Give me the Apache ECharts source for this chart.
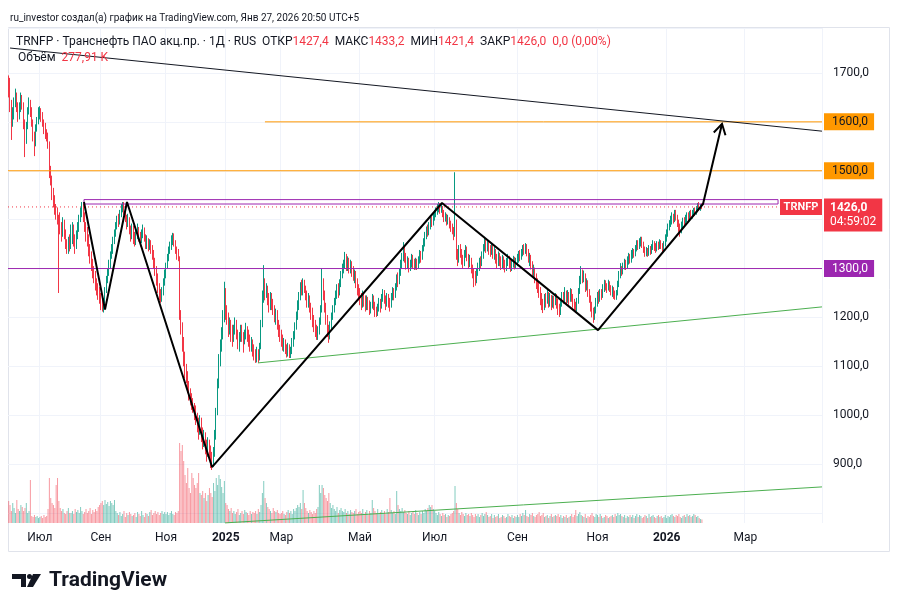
<!DOCTYPE html>
<html>
<head>
<meta charset="utf-8">
<script src="https://cdn.jsdelivr.net/npm/echarts@6/dist/echarts.min.js"></script>
<style>
  html, body { margin: 0; padding: 0; background: #fff; }
  #chart { width: 903px; height: 612px; }
</style>
</head>
<body>
<div id="chart"></div>
<script>
// daily bars per month: [close, high, low]; open is taken from the previous close
const firstOpen = 1690;
const c2406 = [[1680,1695,1650],[1640,1690,1620],[1600,1645,1563],[1615,1630,1590],[1640,1650,1605],[1655,1668,1630],[1630,1660,1620],[1610,1640,1600],[1625,1640,1605],[1650,1660,1620],[1635,1655,1625],[1600,1640,1585],[1560,1605,1528],[1590,1600,1555],[1620,1630,1585],[1640,1650,1615],[1625,1645,1610],[1600,1630,1590],[1575,1605,1560],[1555,1580,1530],[1585,1595,1550],[1600,1610,1580],[1620,1630,1595]];
const c2407 = [[1625,1632,1605],[1615,1628,1600],[1600,1620,1590],[1590,1605,1575],[1580,1598,1565],[1570,1585,1560],[1560,1578,1545],[1505,1530,1485],[1480,1510,1470],[1455,1490,1440],[1440,1465,1425],[1425,1450,1410],[1410,1432,1400],[1400,1425,1390],[1395,1410,1250],[1385,1415,1370],[1370,1395,1355],[1395,1405,1365],[1375,1400,1360],[1350,1380,1340],[1340,1360,1330],[1355,1365,1330],[1345,1370,1335]];
const c2408 = [[1365,1390,1340],[1385,1395,1350],[1360,1390,1345],[1345,1370,1330],[1370,1378,1340],[1380,1395,1360],[1400,1410,1375],[1415,1425,1395],[1425,1436,1405],[1410,1432,1395],[1390,1415,1375],[1370,1395,1355],[1365,1385,1345],[1340,1370,1325],[1325,1350,1310],[1310,1335,1295],[1295,1320,1280],[1285,1305,1270],[1270,1295,1255],[1260,1280,1245],[1250,1270,1236],[1240,1262,1228]];
const c2409 = [[1230,1250,1215],[1222,1245,1212],[1235,1240,1210],[1255,1262,1228],[1275,1285,1250],[1290,1300,1270],[1310,1318,1285],[1325,1335,1300],[1340,1350,1320],[1355,1365,1330],[1370,1380,1350],[1385,1395,1365],[1400,1408,1380],[1395,1412,1385],[1410,1420,1390],[1425,1432,1405],[1432,1436,1415],[1420,1436,1410],[1405,1428,1395],[1390,1410,1380],[1400,1412,1385],[1380,1405,1370],[1370,1388,1355],[1385,1392,1360]];
const c2410 = [[1365,1388,1350],[1355,1375,1345],[1370,1380,1348],[1380,1392,1360],[1365,1385,1355],[1360,1375,1345],[1372,1380,1352],[1378,1390,1362],[1365,1384,1355],[1350,1370,1340],[1358,1368,1340],[1345,1362,1335],[1352,1360,1338],[1340,1358,1330],[1330,1348,1318],[1315,1338,1300],[1300,1322,1285],[1280,1305,1265],[1262,1290,1250],[1250,1270,1235],[1242,1258,1230],[1255,1262,1232],[1270,1280,1245],[1290,1298,1265]];
const c2411 = [[1305,1312,1280],[1320,1330,1300],[1335,1345,1315],[1345,1355,1330],[1358,1368,1338],[1365,1373,1348],[1352,1372,1345],[1340,1358,1330],[1330,1345,1318],[1325,1340,1315],[1205,1277,1195],[1180,1215,1165],[1150,1190,1130],[1120,1160,1100],[1095,1130,1075],[1080,1105,1066],[1060,1090,1045],[1045,1070,1030],[1035,1055,1020],[1025,1045,1011],[1015,1035,1005],[1005,1025,990]];
const c2412 = [[995,1020,980],[985,1005,965],[970,995,950],[990,1000,960],[965,995,945],[950,975,930],[960,970,935],[940,965,920],[925,950,905],[945,955,915],[930,950,910],[912,938,892],[905,925,888],[925,935,895],[960,970,915],[1005,1015,950],[1060,1075,1000],[1110,1125,1055],[1140,1155,1100],[1165,1180,1130],[1200,1215,1155],[1225,1273,1190]];
const c2501 = [[1215,1260,1195],[1200,1225,1185],[1180,1210,1160],[1190,1200,1165],[1170,1195,1150],[1160,1185,1140],[1175,1185,1150],[1190,1200,1165],[1170,1195,1155],[1150,1175,1135],[1160,1170,1130],[1175,1185,1150],[1165,1185,1150],[1150,1170,1128],[1160,1175,1145],[1175,1189,1155],[1165,1182,1150],[1155,1175,1140],[1145,1165,1130],[1150,1160,1130],[1135,1155,1120]];
const c2502 = [[1125,1145,1112],[1118,1135,1107],[1130,1140,1108],[1115,1135,1107],[1140,1148,1112],[1185,1195,1135],[1240,1255,1180],[1275,1307,1230],[1250,1280,1235],[1262,1270,1240],[1240,1265,1225],[1225,1250,1210],[1245,1252,1215],[1230,1250,1215],[1215,1238,1205],[1200,1225,1190],[1210,1218,1185],[1190,1215,1175],[1175,1195,1160],[1165,1185,1150]];
const c2503 = [[1155,1175,1140],[1145,1165,1132],[1150,1158,1130],[1135,1155,1125],[1128,1145,1118],[1140,1148,1120],[1125,1145,1117],[1132,1140,1117],[1150,1158,1125],[1165,1172,1140],[1180,1190,1155],[1205,1212,1175],[1225,1235,1195],[1245,1252,1215],[1265,1272,1235],[1255,1277,1245],[1272,1280,1245],[1260,1277,1250],[1245,1265,1235],[1230,1255,1220],[1242,1250,1220],[1225,1245,1210],[1210,1230,1195],[1195,1220,1180],[1185,1205,1170],[1175,1195,1160],[1165,1185,1154],[1175,1182,1154],[1190,1200,1165]];
const c2504 = [[1215,1225,1185],[1270,1301,1210],[1250,1280,1235],[1225,1255,1210],[1200,1230,1185],[1175,1205,1160],[1165,1185,1148],[1185,1192,1155],[1200,1210,1175],[1215,1225,1195],[1230,1240,1210],[1245,1255,1225],[1260,1268,1238],[1250,1270,1240],[1270,1278,1245],[1285,1295,1262],[1300,1310,1280],[1310,1318,1290],[1320,1334,1300],[1305,1330,1295],[1318,1325,1295],[1300,1322,1290],[1310,1318,1290],[1295,1315,1283],[1285,1305,1275],[1290,1298,1270],[1270,1295,1260],[1260,1280,1245],[1250,1268,1235]];
const c2505 = [[1240,1260,1225],[1230,1250,1215],[1245,1255,1220],[1235,1252,1222],[1225,1245,1212],[1238,1245,1215],[1228,1242,1215],[1215,1235,1205],[1225,1232,1208],[1240,1248,1218],[1228,1245,1215],[1212,1232,1201],[1208,1222,1201],[1220,1228,1203],[1232,1240,1212],[1222,1238,1210],[1240,1248,1218],[1252,1258,1232],[1240,1256,1228],[1228,1245,1215],[1242,1250,1222],[1232,1248,1220],[1225,1240,1212],[1240,1250,1220],[1255,1262,1235],[1245,1260,1235],[1262,1270,1240]];
const c2506 = [[1280,1288,1255],[1275,1292,1262],[1295,1300,1268],[1310,1318,1285],[1325,1332,1300],[1340,1354,1315],[1325,1345,1312],[1310,1332,1298],[1318,1325,1300],[1300,1322,1292],[1310,1318,1295],[1322,1330,1302],[1312,1328,1300],[1302,1320,1297],[1315,1322,1298],[1305,1320,1297],[1318,1325,1300],[1330,1338,1310],[1322,1336,1312],[1340,1348,1318],[1355,1362,1335],[1368,1375,1345],[1378,1386,1360],[1372,1390,1365],[1388,1395,1368],[1398,1405,1380],[1392,1406,1385],[1405,1412,1388]];
const c2507 = [[1412,1420,1398],[1418,1425,1405],[1425,1432,1410],[1430,1436,1415],[1422,1434,1412],[1426,1432,1414],[1415,1428,1405],[1405,1420,1395],[1408,1415,1396],[1398,1412,1388],[1402,1410,1390],[1392,1405,1382],[1386,1398,1375],[1380,1392,1370],[1370,1385,1358],[1400,1497,1365],[1330,1352,1318],[1320,1340,1305],[1340,1348,1312],[1335,1350,1322],[1320,1340,1308],[1310,1328,1300],[1330,1338,1305],[1340,1348,1322],[1325,1345,1315],[1310,1330,1300],[1320,1328,1303],[1300,1322,1290],[1295,1308,1280],[1285,1300,1262],[1280,1295,1265]];
const c2508 = [[1292,1300,1270],[1305,1312,1285],[1318,1322,1295],[1312,1325,1300],[1328,1335,1305],[1342,1350,1320],[1355,1365,1335],[1345,1360,1332],[1350,1358,1335],[1340,1355,1328],[1332,1348,1324],[1345,1352,1328],[1330,1350,1320],[1338,1344,1318],[1322,1340,1310],[1312,1330,1300],[1328,1335,1305],[1318,1332,1305],[1305,1325,1297],[1320,1328,1300],[1310,1325,1298],[1300,1318,1292],[1315,1322,1295],[1322,1330,1305],[1310,1326,1300],[1300,1318,1293],[1312,1318,1295],[1320,1326,1302],[1308,1324,1298],[1316,1322,1300]];
const c2509 = [[1322,1330,1305],[1330,1336,1312],[1325,1338,1315],[1335,1340,1318],[1342,1348,1325],[1338,1350,1328],[1346,1352,1330],[1335,1350,1325],[1320,1340,1312],[1325,1332,1305],[1308,1328,1298],[1295,1315,1285],[1300,1308,1282],[1282,1302,1270],[1270,1290,1258],[1262,1280,1250],[1255,1272,1240],[1240,1262,1225],[1228,1250,1215],[1222,1238,1209],[1240,1248,1215],[1235,1250,1220],[1248,1256,1228],[1230,1252,1220],[1242,1250,1222],[1228,1246,1215],[1238,1245,1220],[1230,1244,1218],[1240,1250,1225]];
const c2510 = [[1232,1248,1218],[1218,1238,1205],[1212,1228,1201],[1228,1235,1205],[1245,1252,1222],[1238,1252,1228],[1250,1262,1232],[1235,1255,1225],[1248,1256,1230],[1236,1252,1226],[1252,1260,1232],[1242,1258,1232],[1230,1248,1220],[1225,1238,1212],[1218,1232,1209],[1232,1240,1212],[1252,1260,1228],[1275,1285,1248],[1292,1305,1268],[1280,1298,1270],[1288,1296,1272],[1262,1290,1252],[1272,1280,1255],[1252,1276,1242],[1240,1258,1230],[1225,1245,1212],[1212,1232,1200],[1202,1220,1189],[1215,1222,1195],[1232,1240,1208]];
const c2511 = [[1245,1252,1222],[1238,1255,1228],[1252,1258,1232],[1245,1258,1236],[1262,1268,1240],[1272,1277,1252],[1265,1276,1255],[1258,1270,1250],[1270,1277,1255],[1262,1274,1252],[1252,1266,1245],[1258,1265,1242],[1248,1262,1238],[1240,1255,1236],[1250,1256,1236],[1268,1275,1245],[1288,1295,1262],[1300,1311,1280],[1292,1305,1285],[1305,1312,1288],[1312,1320,1298],[1305,1318,1297],[1318,1325,1300],[1325,1332,1308],[1320,1330,1310]];
const c2512 = [[1330,1338,1312],[1338,1342,1320],[1330,1340,1322],[1342,1348,1325],[1350,1358,1335],[1345,1358,1338],[1355,1362,1340],[1362,1365,1345],[1350,1365,1342],[1340,1355,1332],[1332,1345,1324],[1338,1344,1325],[1330,1342,1324],[1342,1348,1326],[1335,1346,1328],[1345,1350,1330],[1352,1358,1338],[1345,1356,1336],[1340,1352,1332],[1350,1356,1335],[1345,1355,1338],[1355,1360,1340],[1348,1358,1340],[1340,1352,1332],[1350,1356,1335],[1362,1370,1345]];
const c2601 = [[1372,1380,1355],[1385,1392,1365],[1395,1399,1378],[1402,1408,1385],[1408,1415,1390],[1400,1412,1392],[1412,1420,1395],[1405,1420,1398],[1395,1410,1385],[1388,1400,1375],[1380,1392,1365],[1390,1396,1372],[1398,1404,1382],[1392,1405,1385],[1402,1410,1388],[1408,1415,1395],[1404,1415,1396],[1412,1418,1398],[1408,1420,1400],[1415,1420,1402],[1418,1424,1406],[1414,1425,1408],[1422,1428,1410],[1428,1434,1415],[1424,1436,1418],[1427.4,1432,1418],[1426,1433.2,1421.4]];

// volume per day, thousands
const v2406 = [1760,1440,960,1600,1200,800,1840,1120,960,1440,1280,960,1200,1600,800,960,3440,560,480,640,480,560,400];
const v2407 = [480,560,400,640,480,560,1120,3600,2000,1600,1440,1200,3040,3600,1760,1200,960,1120,800,720,960,1200,800];
const v2408 = [800,960,720,1120,880,1040,800,1280,960,720,880,1120,800,960,1200,720,1040,880,1120,960,1280,1440];
const v2409 = [1600,1760,1440,1840,1520,1680,1360,1760,1600,1440,1840,960,800,640,880,560,720,960,480,800,640,880,720,560];
const v2410 = [640,800,480,880,720,560,960,640,480,800,720,560,880,1040,640,800,960,720,880,640,800,960,720,880];
const v2411 = [720,880,640,800,960,720,640,880,800,960,6400,5760,6240,4960,3840,3200,4400,2800,2400,4000,3600,3040];
const v2412 = [2800,3200,4000,2400,2240,2560,2000,2400,1760,2240,2800,2400,2080,3200,2560,3600,3040,3840,3520,2880,2400,3360];
const v2501 = [1600,1440,1120,960,1200,800,960,720,880,1120,640,800,960,720,1040,880,800,640,960,720,880];
const v2502 = [800,960,720,1120,880,1440,2400,3360,2000,1600,1280,1120,960,800,1200,960,880,1040,800,720];
const v2503 = [800,960,720,640,880,1040,800,960,720,1120,960,1200,1440,1280,1600,1120,2640,1600,1200,960,800,1040,880,720,960,800,1120,1280,3040];
const v2504 = [2400,3040,2800,2240,2000,1760,2400,1600,1200,1440,1120,960,1280,800,1040,1200,960,880,1120,800,960,720,1040,880,800,960,1120,720,880];
const v2505 = [960,800,1120,720,880,1040,640,960,800,1840,1200,960,800,1120,720,880,1040,800,960,720,1120,880,2000,1040,800,960,720];
const v2506 = [2560,1440,1120,960,1200,880,1040,800,720,960,640,800,880,720,1040,800,640,880,720,960,800,1120,960,1200,1440,1280,1440,1120];
const v2507 = [960,800,640,880,720,560,800,640,720,480,640,560,720,800,960,2960,1600,1120,800,640,880,720,560,800,640,720,560,800,640,480,720];
const v2508 = [560,720,480,640,800,560,720,880,640,480,560,720,400,640,480,560,720,400,480,640,560,400,480,720,560,480,640,400,560,480];
const v2509 = [640,480,720,560,800,640,1040,560,480,720,640,800,560,480,640,720,880,560,640,800,480,560,640,400,560,720,480,560,640];
const v2510 = [560,720,480,640,400,560,480,640,400,480,560,720,480,640,1040,560,720,880,640,560,480,720,400,560,480,640,800,560,480,720];
const v2511 = [640,480,720,560,400,480,640,560,400,480,560,640,480,720,560,800,640,720,560,480,640,400,560,480,640];
const v2512 = [480,640,400,560,720,480,640,560,400,480,640,560,400,720,480,560,640,480,400,560,640,480,560,400,480,640];
const v2601 = [400,560,480,640,720,560,480,640,560,720,480,400,560,640,480,720,560,640,480,560,720,640,480,560,400,320,277.91];

const monthLabels = ['', 'Июл', '', 'Сен', '', 'Ноя', '', '2025', '', 'Мар', '', 'Май', '', 'Июл', '', 'Сен', '', 'Ноя', '', '2026', '', 'Мар'];
const futureJan = 3, futureFeb = 28, futureMar = 57;

// drawings, in [bar index, price]
const zigzag = [[55.5,1436],[71,1216],[87.2,1436],[149.9,894],[319.4,1434],[434.4,1174],[511.8,1432],[525.8,1596]];
const resistance = [[1,1751],[599.5,1581]];
const support = [[183.8,1107],[599.5,1221.6]];
const volTrend = [[159.5,779.8],[599.5,853.4]];
const box = [[55.5,1432],[55.5,1441],[567.1,1441],[567.1,1432],[55.5,1432]];
const lvl1600 = [[188.9,1600],[599.5,1600]];
const lvl1500 = [[-0.5,1500],[599.5,1500]];
const lvl1300 = [[-0.5,1300],[599.5,1300]];
const lastPrice = [[-0.5,1426],[599.5,1426]];

const dataMonths = [c2406,c2407,c2408,c2409,c2410,c2411,c2412,c2501,c2502,c2503,c2504,c2505,c2506,c2507,c2508,c2509,c2510,c2511,c2512,c2601];
const volMonths = [v2406,v2407,v2408,v2409,v2410,v2411,v2412,v2501,v2502,v2503,v2504,v2505,v2506,v2507,v2508,v2509,v2510,v2511,v2512,v2601];

const slots = dataMonths.map(m => m.length);
slots[slots.length - 1] += futureJan;
slots.push(futureFeb, futureMar);

const cats = [];
const labelAt = {};
slots.forEach((n, m) => {
  for (let d = 0; d < n; d++) {
    if (d === 0 && monthLabels[m]) labelAt[cats.length] = monthLabels[m];
    cats.push(m + '-' + d);
  }
});

const UP = '#089981', DOWN = '#f23645';
const candles = [];
const vols = [];
let prev = firstOpen;
const bars = dataMonths.flat();
const vflat = volMonths.flat();
bars.forEach(([c, h, l], i) => {
  const o = prev;
  candles.push([o, c, Math.min(l, o, c), Math.max(h, o, c)]);
  vols.push({ value: vflat[i], itemStyle: { color: c >= o ? 'rgba(8,153,129,0.5)' : 'rgba(242,54,69,0.5)' } });
  prev = c;
});

const FONT = 'Roboto, "Noto Sans", sans-serif';
const plain = (data, color, width, extra) => Object.assign({
  type: 'line', xAxisIndex: 2, yAxisIndex: 0, data: data, symbol: 'none', silent: true, clip: false,
  lineStyle: { color: color, width: width }, z: 5
}, extra || {});
const badge = (text, bg, fg) => ({
  show: true, formatter: text, color: fg, backgroundColor: bg, padding: [3, 6, 2, 8],
  fontSize: 12, fontFamily: FONT, distance: 2
});

const chart = echarts.init(document.getElementById('chart'));
chart.setOption({
  animation: false,
  backgroundColor: '#ffffff',
  grid: [
    { left: 8, right: 81, top: 28, bottom: 99 },
    { left: 8, right: 81, top: 28, bottom: 89 }
  ],
  xAxis: [
    { type: 'category', gridIndex: 0, data: cats, boundaryGap: true, show: false },
    {
      type: 'category', gridIndex: 1, data: cats, boundaryGap: true,
      axisLine: { show: false }, axisTick: { show: false },
      axisLabel: {
        interval: (i) => labelAt[i] !== undefined,
        formatter: (v, i) => {
          const t = labelAt[i] || '';
          return /^\d{4}$/.test(t) ? '{y|' + t + '}' : t;
        },
        color: '#131722', fontSize: 12, fontFamily: FONT, margin: 9,
        rich: { y: { fontWeight: 'bold', fontSize: 12, fontFamily: FONT, color: '#131722' } }
      },
      splitLine: { show: true, interval: (i) => labelAt[i] !== undefined, lineStyle: { color: '#f0f3fa', width: 1 } }
    },
    { type: 'value', gridIndex: 0, min: -0.5, max: 599.5, show: false }
  ],
  yAxis: [
    {
      type: 'value', gridIndex: 0, position: 'right', min: 800, max: 1792, interval: 100,
      axisLine: { show: false }, axisTick: { show: false },
      splitLine: { lineStyle: { color: '#f0f3fa', width: 1 } },
      axisLabel: {
        color: '#131722', fontSize: 12, fontFamily: FONT, margin: 11,
        formatter: (v) => (v % 100 === 0 && v > 800) ? v.toFixed(1).replace('.', ',') : ''
      }
    },
    { type: 'value', gridIndex: 1, min: 0, max: 39600, show: false }
  ],
  series: [
    {
      type: 'bar', xAxisIndex: 1, yAxisIndex: 1, data: vols, barWidth: 1, silent: true, z: 1,
      markLine: {
        silent: true, symbol: 'none', lineStyle: { opacity: 0 },
        data: [{ yAxis: 277.91 }],
        label: Object.assign(badge('277,91 K', '#f7525f', '#ffffff'), { position: 'end', offset: [0, -3] })
      }
    },
    {
      type: 'candlestick', xAxisIndex: 0, yAxisIndex: 0, data: candles, barWidth: 0.6, silent: true, z: 3,
      itemStyle: { color: UP, color0: DOWN, borderColor: UP, borderColor0: DOWN, borderWidth: 1 }
    },
    plain(lvl1500, '#ff9800', 1, { endLabel: badge('1500,0', '#ff9800', '#131722') }),
    plain(lvl1600, '#ff9800', 1, { endLabel: badge('1600,0', '#ff9800', '#131722') }),
    plain(lvl1300, '#9c27b0', 1, { endLabel: badge('1300,0', '#9c27b0', '#ffffff') }),
    plain(box, '#9c27b0', 1),
    plain(lastPrice, '#f23645', 1, {
      lineStyle: { color: '#f23645', width: 1, type: [1, 3] },
      endLabel: Object.assign(badge('{p|1426,0}\n{t|04:59:02}', '#f23645', '#ffffff'), {
        offset: [0, 8], padding: [3, 6, 2, 6],
        rich: { p: { color: '#fff', fontSize: 12, fontFamily: FONT, fontWeight: 'bold', lineHeight: 14 },
                t: { color: '#fff', fontSize: 12, fontFamily: FONT, lineHeight: 14 } }
      }),
      markPoint: {
        silent: true, symbol: 'rect', symbolSize: [42, 16], symbolOffset: [-21, 0],
        itemStyle: { color: '#f23645' },
        label: { show: true, formatter: 'TRNFP', color: '#fff', fontSize: 11, fontWeight: 'bold', fontFamily: FONT },
        data: [{ coord: lastPrice[1] }]
      }
    }),
    plain(resistance, '#131722', 1),
    plain(support, '#4caf50', 1),
    plain(volTrend, '#4caf50', 1),
    plain(zigzag, '#000000', 2, { z: 6 }),
    {
      type: 'custom', xAxisIndex: 2, yAxisIndex: 0, silent: true, clip: false, z: 6,
      encode: { x: [0, 2], y: [1, 3] },
      data: [[zigzag[6][0], zigzag[6][1], zigzag[7][0], zigzag[7][1]]],
      renderItem: (params, api) => {
        const a = api.coord([api.value(0), api.value(1)]);
        const b = api.coord([api.value(2), api.value(3)]);
        const ang = Math.atan2(b[1] - a[1], b[0] - a[0]);
        const L = 12, s = Math.PI / 6;
        return {
          type: 'polyline',
          shape: { points: [
            [b[0] - L * Math.cos(ang - s), b[1] - L * Math.sin(ang - s)], b,
            [b[0] - L * Math.cos(ang + s), b[1] - L * Math.sin(ang + s)]
          ] },
          style: { stroke: '#000', lineWidth: 2, fill: null }
        };
      }
    }
  ],
  graphic: [
    { type: 'rect', silent: true, z: -10, shape: { x: 8.5, y: 27.5, width: 881, height: 524 }, style: { fill: null, stroke: '#e0e3eb', lineWidth: 1 } },
    { type: 'text', x: 10, y: 18, silent: true, style: {
      text: 'ru_investor создал(а) график на TradingView.com, Янв 27, 2026 20:50 UTC+5',
      font: '10px ' + FONT, fill: '#131722', verticalAlign: 'middle' } },
    { type: 'text', x: 16, y: 42, silent: true, z: 100, style: {
      text: '{n|TRNFP · Транснефть ПАО акц.пр. · 1Д · RUS  ОТКР}{r|1427,4}{n|  МАКС}{r|1433,2}{n|  МИН}{r|1421,4}{n|  ЗАКР}{r|1426,0}{r|  0,0 (0,00%)}',
      verticalAlign: 'middle',
      rich: { n: { fill: '#131722', font: '12px ' + FONT }, r: { fill: '#f23645', font: '12px ' + FONT } } } },
    { type: 'text', x: 18, y: 58, silent: true, z: 100, style: {
      text: '{n|Объём}{r|  277,91 K}', verticalAlign: 'middle',
      rich: { n: { fill: '#131722', font: '12px ' + FONT }, r: { fill: '#f23645', font: '12px ' + FONT } } } },
    { type: 'group', x: 12, y: 574, silent: true, children: [
      { type: 'rect', shape: { x: 0, y: 0, width: 14, height: 5 }, style: { fill: '#131722' } },
      { type: 'rect', shape: { x: 9, y: 0, width: 5, height: 13 }, style: { fill: '#131722' } },
      { type: 'circle', shape: { cx: 17.5, cy: 2.5, r: 2.5 }, style: { fill: '#131722' } },
      { type: 'polygon', shape: { points: [[21, 0], [29, 0], [21, 13], [15, 13]] }, style: { fill: '#131722' } }
    ] },
    { type: 'text', x: 49, y: 581, silent: true, style: {
      text: 'TradingView', font: 'bold 21px ' + FONT, fill: '#131722', verticalAlign: 'middle' } }
  ]
});
</script>
</body>
</html>
